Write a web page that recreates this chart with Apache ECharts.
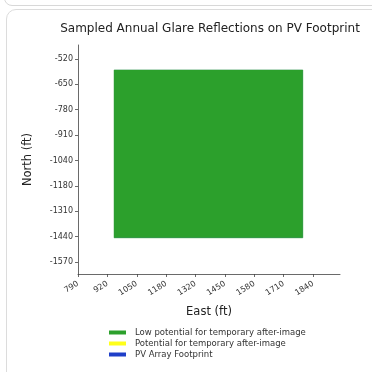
<!DOCTYPE html>
<html>
<head>
<meta charset="utf-8">
<script src="https://cdn.jsdelivr.net/npm/echarts@6/dist/echarts.min.js"></script>
<style>
html,body{margin:0;padding:0;background:#fff;width:372px;height:372px;overflow:hidden;}
#card1{position:absolute;left:4px;top:-30px;width:420px;height:34px;border:1px solid #d8d8d8;border-radius:8px;}
#card2{position:absolute;left:6px;top:9px;width:420px;height:420px;border:1.5px solid #dcdcdc;border-radius:10px;}
#chart{position:absolute;left:0;top:0;width:372px;height:372px;}
</style>
</head>
<body>
<div id="card1"></div>
<div id="card2"></div>
<div id="chart"></div>
<script>
// ---- data ----
var titleText = 'Sampled Annual Glare Reflections on PV Footprint';
var xName = 'East (ft)';
var yName = 'North (ft)';
var xTickValues = [790, 921.25, 1052.5, 1183.75, 1315, 1446.25, 1577.5, 1708.75, 1840];
var xTickLabels = ['790', '920', '1050', '1180', '1320', '1450', '1580', '1710', '1840'];
var yTickValues = [-520, -651.25, -782.5, -913.75, -1045, -1176.25, -1307.5, -1438.75, -1570];
var yTickLabels = ['-520', '-650', '-780', '-910', '-1040', '-1180', '-1310', '-1440', '-1570'];
var xRange = [790, 1960];
var yRange = [-1632, -448];
var seriesNames = ['Low potential for temporary after-image', 'Potential for temporary after-image', 'PV Array Footprint'];
var seriesColors = ['#2ca02c', '#ffff1a', '#1f3fc8'];
// polygon vertices [east, north]
var footprintPoly = [[953, -579], [1792, -579], [1792, -1443], [953, -1443]];
var lowGlarePoly = [[951, -577], [1794, -577], [1794, -1445], [951, -1445]];
var potentialGlarePoly = [];

function labelFor(vals, labels) {
  return function (v) {
    for (var i = 0; i < vals.length; i++) { if (Math.abs(vals[i] - v) < 1e-6) return labels[i]; }
    return '';
  };
}
function polySeries(name, color, poly, z) {
  return {
    name: name, type: 'custom', z: z,
    itemStyle: { color: color },
    data: poly.length ? [0] : [],
    renderItem: function (params, api) {
      var pts = poly.map(function (p) { return api.coord(p); });
      return { type: 'polygon', shape: { points: pts }, style: { fill: color, stroke: color, lineWidth: 0.5 } };
    }
  };
}

var chart = echarts.init(document.getElementById('chart'), null, { renderer: 'canvas' });
var font = 'DejaVu Sans';
chart.setOption({
  animation: false,
  textStyle: { fontFamily: font },
  title: {
    text: titleText, left: 205, top: 18, textAlign: 'center',
    textStyle: { fontSize: 12, fontWeight: 'normal', color: '#222', fontFamily: font }
  },
  grid: { left: 78, top: 45, right: 32, bottom: 98, containLabel: false },
  xAxis: {
    type: 'value', min: xRange[0], max: xRange[1],
    name: xName, nameLocation: 'middle', nameGap: 32,
    nameTextStyle: { fontSize: 11.5, color: '#222', fontFamily: font },
    axisLine: { show: true, onZero: false, lineStyle: { color: '#444', width: 0.8 } },
    axisTick: { show: true, length: 3, customValues: xTickValues, lineStyle: { color: '#444', width: 0.8 } },
    axisLabel: { customValues: xTickValues, formatter: labelFor(xTickValues, xTickLabels), rotate: 32, fontSize: 8, color: '#333', margin: 9, fontFamily: font },
    splitLine: { show: false }
  },
  yAxis: {
    type: 'value', min: yRange[0], max: yRange[1],
    name: yName, nameLocation: 'middle', nameGap: 44,
    nameTextStyle: { fontSize: 11.5, color: '#222', fontFamily: font },
    axisLine: { show: true, onZero: false, lineStyle: { color: '#444', width: 0.8 } },
    axisTick: { show: true, length: 3, customValues: yTickValues, lineStyle: { color: '#444', width: 0.8 } },
    axisLabel: { customValues: yTickValues, formatter: labelFor(yTickValues, yTickLabels), fontSize: 8, color: '#333', margin: 5, fontFamily: font },
    splitLine: { show: false }
  },
  legend: {
    orient: 'vertical', left: 104, top: 323, itemWidth: 17, itemHeight: 4, itemGap: 2,
    icon: 'rect',
    textStyle: { fontSize: 8.5, color: '#333', fontFamily: font, padding: [0, 0, 0, 4] },
    data: seriesNames
  },
  series: [
    polySeries(seriesNames[2], seriesColors[2], footprintPoly, 1),
    polySeries(seriesNames[0], seriesColors[0], lowGlarePoly, 3),
    polySeries(seriesNames[1], seriesColors[1], potentialGlarePoly, 4)
  ]
});
</script>
</body>
</html>
